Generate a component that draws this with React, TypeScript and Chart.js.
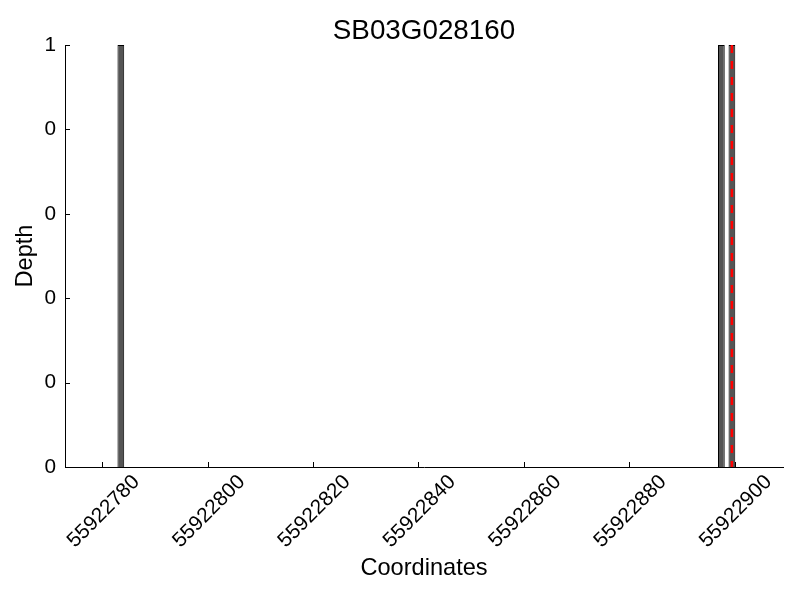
import { useEffect, useRef } from "react";
import { Chart, registerables } from "chart.js";

Chart.register(...registerables);

const chartTitle = "SB03G028160";
const xAxisLabel = "Coordinates";
const yAxisLabel = "Depth";
const barPositions = [55922783.5, 55922897.5, 55922899.5];
const depthValues = [1, 1, 1];
const markerPosition = 55922899.5;
const xTickValues = [55922780, 55922800, 55922820, 55922840, 55922860, 55922880, 55922900];
const yTickValues = [0, 0.2, 0.4, 0.6, 0.8, 1];
const xMin = 55922772.9;
const xMax = 55922909.2;

const FONT = "'Liberation Sans', Arial, Helvetica, sans-serif";

const inwardTicks = {
  id: "inwardTicks",
  beforeDatasetsDraw(chart: any) {
    const { ctx, chartArea, scales } = chart;
    ctx.save();
    ctx.strokeStyle = "#000";
    ctx.lineWidth = 1;
    scales.x.ticks.forEach((t: any) => {
      const px = Math.round(scales.x.getPixelForValue(t.value)) + 0.5;
      ctx.beginPath();
      ctx.moveTo(px, chartArea.bottom);
      ctx.lineTo(px, chartArea.bottom - 5);
      ctx.stroke();
    });
    scales.y.ticks.forEach((t: any) => {
      const py = Math.round(scales.y.getPixelForValue(t.value)) + 0.5;
      ctx.beginPath();
      ctx.moveTo(chartArea.left, py);
      ctx.lineTo(chartArea.left + 5, py);
      ctx.stroke();
    });
    ctx.restore();
  },
};

// Title centred over the plot area (as in the reference), not over the whole canvas
const axesTitle = {
  id: "axesTitle",
  afterDraw(chart: any) {
    const { ctx, chartArea } = chart;
    ctx.save();
    ctx.fillStyle = "#000";
    ctx.font = `normal 27.8px ${FONT}`;
    ctx.textAlign = "center";
    ctx.textBaseline = "middle";
    ctx.fillText(chartTitle, (chartArea.left + chartArea.right) / 2, chartArea.top - 13.3);
    ctx.restore();
  },
};

export default function App() {
  const ref = useRef<HTMLCanvasElement | null>(null);

  useEffect(() => {
    if (!ref.current) return;
    const chart = new Chart(ref.current, {
      type: "bar",
      data: {
        datasets: [
          {
            type: "line",
            data: [
              { x: markerPosition, y: 1 },
              { x: markerPosition, y: 0 },
            ],
            borderColor: "#ff0000",
            borderWidth: 2.5,
            borderDash: [8, 8],
            pointRadius: 0,
            fill: false,
            order: 1,
          } as any,
          {
            type: "bar",
            data: barPositions.map((x, i) => ({ x, y: depthValues[i] })),
            backgroundColor: "#555555",
            borderColor: "#000000",
            borderWidth: 1,
            barPercentage: 0.64,
            categoryPercentage: 1,
            order: 2,
          } as any,
        ],
      },
      options: {
        animation: false,
        responsive: true,
        maintainAspectRatio: false,
        events: [],
        layout: { padding: { left: 0, right: 17, top: 45, bottom: 0 } },
        plugins: {
          legend: { display: false },
          tooltip: { enabled: false },
          title: { display: false },
        },
        scales: {
          x: {
            type: "linear",
            min: xMin,
            max: xMax,
            offset: false,
            afterBuildTicks: (s: any) => {
              s.ticks = xTickValues.map((v) => ({ value: v }));
            },
            afterFit: (s: any) => {
              s.height = 133;
            },
            grid: { display: false, drawTicks: false },
            border: { display: true, color: "#000", width: 1 },
            ticks: {
              autoSkip: false,
              minRotation: 45,
              maxRotation: 45,
              labelOffset: 34,
              padding: 3,
              color: "#000",
              font: { family: FONT, size: 20.8 },
              callback: (v: any) => String(v),
            },
            title: {
              display: true,
              text: xAxisLabel,
              color: "#000",
              font: { family: FONT, size: 23.6 },
              padding: { top: 0, bottom: 17 },
            },
          },
          y: {
            type: "linear",
            min: 0,
            max: 1,
            afterBuildTicks: (s: any) => {
              s.ticks = yTickValues.map((v) => ({ value: v }));
            },
            afterFit: (s: any) => {
              s.width = 65;
            },
            grid: { display: false, drawTicks: false },
            border: { display: true, color: "#000", width: 1 },
            ticks: {
              padding: 9,
              color: "#000",
              font: { family: FONT, size: 20.8 },
              callback: (v: any) => String(Math.floor(Number(v) + 1e-9)),
            },
            title: {
              display: true,
              text: yAxisLabel,
              color: "#000",
              font: { family: FONT, size: 23.6 },
              padding: { top: 11, bottom: 0 },
            },
          },
        },
      },
      plugins: [inwardTicks, axesTitle],
    });
    return () => chart.destroy();
  }, []);

  return (
    <div style={{ position: "absolute", left: 0, top: 0, width: 800, height: 600, background: "#fff" }}>
      <canvas ref={ref} />
    </div>
  );
}
